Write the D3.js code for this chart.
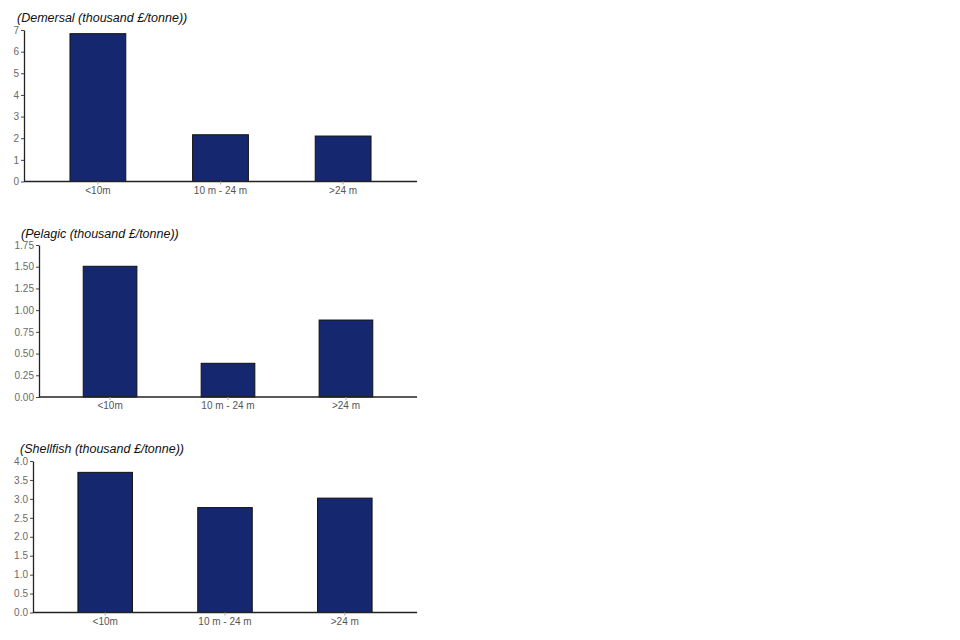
<!DOCTYPE html>
<html><head><meta charset="utf-8">
<script src="https://cdn.jsdelivr.net/npm/d3@7"></script>
<style>body{margin:0;background:#fff;} svg{display:block;}</style>
</head><body>
<svg id="c" width="960" height="640"></svg>
<script>
const categories = ["<10m", "10 m - 24 m", ">24 m"];
const demersal = [6.83, 2.16, 2.10];
const pelagic = [1.505, 0.388, 0.886];
const shellfish = [3.70, 2.77, 3.02];
const demersalTicks = [0,1,2,3,4,5,6,7];
const pelagicTicks = [0,0.25,0.5,0.75,1,1.25,1.5,1.75];
const shellfishTicks = [0,0.5,1,1.5,2,2.5,3,3.5,4];
const titles = ["(Demersal (thousand £/tonne))", "(Pelagic (thousand £/tonne))", "(Shellfish (thousand £/tonne))"];

const panels = [
  {title: titles[0], values: demersal, ticks: demersalTicks, max: 7, fmt: d3.format("d"),
   left: 24, top: 30, bottom: 181.5, tx: 17, ty: 22},
  {title: titles[1], values: pelagic, ticks: pelagicTicks, max: 1.75, fmt: d3.format(".2f"),
   left: 39, top: 245, bottom: 397, tx: 21, ty: 238},
  {title: titles[2], values: shellfish, ticks: shellfishTicks, max: 4, fmt: d3.format(".1f"),
   left: 33, top: 461, bottom: 612.5, tx: 20, ty: 453}
];
const right = 417;
const svg = d3.select("#c");
const font = "Liberation Sans, Arial, sans-serif";

panels.forEach(p => {
  const g = svg.append("g");
  const x = d3.scaleBand().domain(categories).range([p.left, right]).paddingInner(0.545).paddingOuter(0.375);
  const y = d3.scaleLinear().domain([0, p.max]).range([p.bottom, p.top]);

  g.append("text").attr("x", p.tx).attr("y", p.ty)
    .attr("font-family", font).attr("font-size", 12.5).attr("font-style", "italic").attr("fill", "#111")
    .text(p.title);

  g.selectAll("rect").data(p.values).join("rect")
    .attr("x", (d,i) => x(categories[i]))
    .attr("width", x.bandwidth())
    .attr("y", d => y(d))
    .attr("height", d => y(0) - y(d))
    .attr("fill", "#15276f").attr("stroke", "#111").attr("stroke-width", 1);

  const ya = g.append("g").attr("transform", `translate(${p.left},0)`)
    .call(d3.axisLeft(y).tickValues(p.ticks).tickFormat(p.fmt).tickSize(3).tickSizeOuter(0).tickPadding(2));
  ya.select(".domain").attr("stroke", "#222").attr("stroke-width", 1.3);
  ya.selectAll(".tick line").attr("stroke", "#444");
  ya.selectAll("text").attr("font-family", font).attr("font-size", 10).attr("fill", "#6a6a6a");

  const xa = g.append("g").attr("transform", `translate(0,${p.bottom})`)
    .call(d3.axisBottom(x).tickSize(3).tickSizeOuter(0).tickPadding(2));
  xa.select(".domain").attr("stroke", "#222").attr("stroke-width", 1.3)
    .attr("d", `M${p.left},0H${right}`);
  xa.selectAll(".tick line").attr("stroke", "#aaa");
  xa.selectAll("text").attr("font-family", font).attr("font-size", 10).attr("fill", "#555");
});
</script>
</body></html>
